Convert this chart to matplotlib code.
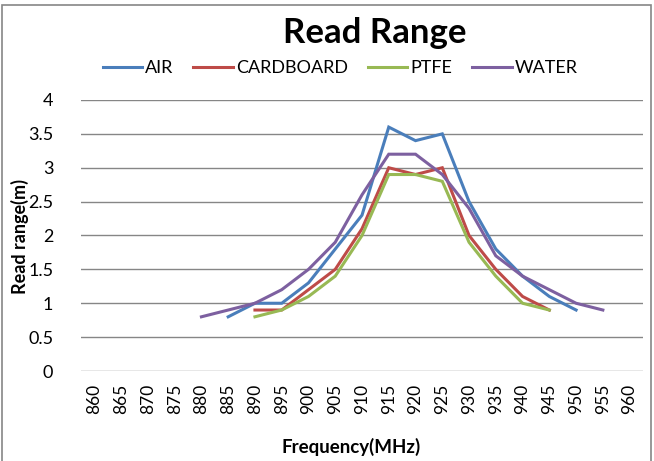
import numpy as np
import matplotlib
matplotlib.use("Agg")
import matplotlib.pyplot as plt
from matplotlib.patches import Rectangle

plt.rcParams['font.family'] = ['Lato', 'DejaVu Sans']

freqs = [860, 865, 870, 875, 880, 885, 890, 895, 900, 905, 910, 915, 920,
         925, 930, 935, 940, 945, 950, 955, 960]
nan = np.nan
air = [nan, nan, nan, nan, nan, 0.8, 1.0, 1.0, 1.3, 1.8, 2.3, 3.6, 3.4,
       3.5, 2.5, 1.8, 1.4, 1.1, 0.9, nan, nan]
cardboard = [nan, nan, nan, nan, nan, nan, 0.9, 0.9, 1.2, 1.5, 2.1, 3.0, 2.9,
             3.0, 2.0, 1.5, 1.1, 0.9, nan, nan, nan]
ptfe = [nan, nan, nan, nan, nan, nan, 0.8, 0.9, 1.1, 1.4, 2.0, 2.9, 2.9,
        2.8, 1.9, 1.4, 1.0, 0.9, nan, nan, nan]
water = [nan, nan, nan, nan, 0.8, 0.9, 1.0, 1.2, 1.5, 1.9, 2.6, 3.2, 3.2,
         2.9, 2.4, 1.7, 1.4, 1.2, 1.0, 0.9, nan]

series = [("AIR", air, "#4A7EBB"), ("CARDBOARD", cardboard, "#BE4B48"),
          ("PTFE", ptfe, "#98B954"), ("WATER", water, "#7D60A0")]

W, H = 654, 461
fig = plt.figure(figsize=(W / 100, H / 100), dpi=100)
ax = fig.add_axes([81 / W, 1 - 371 / H, 562 / W, 271 / H])

x = np.arange(len(freqs))
handles = []
for name, vals, col in series:
    h, = ax.plot(x, vals, color=col, lw=2.2, label=name, solid_joinstyle='miter')
    handles.append(h)

ax.set_xlim(-0.5, len(freqs) - 0.5)
ax.set_ylim(0, 4)
ax.set_yticks(np.arange(0, 4.01, 0.5))
ax.set_yticklabels(['0', '0.5', '1', '1.5', '2', '2.5', '3', '3.5', '4'], fontsize=13)
ax.set_xticks(x)
ax.set_xticklabels([str(f) for f in freqs], rotation=90, fontsize=12.5)
ax.tick_params(axis='x', length=0, pad=9)
ax.tick_params(axis='y', length=0, pad=20)
ax.grid(axis='y', color='#868686', lw=1)
ax.set_axisbelow(True)
for s in ax.spines.values():
    s.set_visible(False)

fig.text(375 / W, 1 - 33 / H, "Read Range", fontsize=25, fontweight='bold',
         ha='center', va='center')
fig.text(351 / W, 1 - 447 / H, "Frequency(MHz)", fontsize=13.5, fontweight='bold',
         ha='center', va='center')
fig.text(20 / W, 1 - 236 / H, "Read range(m)", fontsize=13, fontweight='bold',
         ha='center', va='center', rotation=90)

fig.legend(handles=handles, loc='center', bbox_to_anchor=(340 / W, 1 - 68 / H),
           ncol=4, frameon=False, fontsize=13, handlelength=2.2,
           handletextpad=0.15, columnspacing=1.1)

fig.patches.append(Rectangle((2 / W, -0.1), 649 / W, 1.1 - 5 / H,
                             transform=fig.transFigure, fill=False,
                             edgecolor='#868686', lw=1.2))

fig.savefig("out.png", dpi=100)
